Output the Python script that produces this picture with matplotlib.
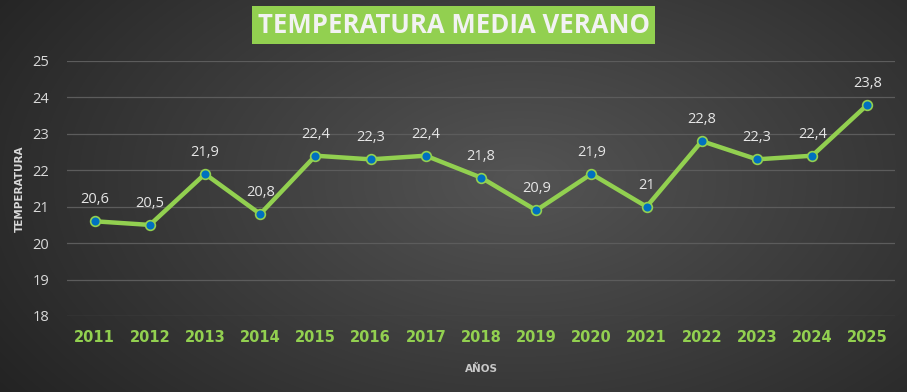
import numpy as np
import matplotlib
matplotlib.use("Agg")
import matplotlib.pyplot as plt

years = ["2011", "2012", "2013", "2014", "2015", "2016", "2017", "2018",
         "2019", "2020", "2021", "2022", "2023", "2024", "2025"]
temps = [20.6, 20.5, 21.9, 20.8, 22.4, 22.3, 22.4, 21.8,
         20.9, 21.9, 21.0, 22.8, 22.3, 22.4, 23.8]
labels = ["20,6", "20,5", "21,9", "20,8", "22,4", "22,3", "22,4", "21,8",
          "20,9", "21,9", "21", "22,8", "22,3", "22,4", "23,8"]

GREEN = "#92D050"
BLUE = "#0070C0"

fig = plt.figure(figsize=(9.07, 3.92), dpi=100)

# radial gradient background
bg = fig.add_axes([0, 0, 1, 1], zorder=-10)
yy, xx = np.mgrid[0:392, 0:907]
r = np.sqrt(((xx - 520) / 560.0) ** 2 + ((yy - 180) / 330.0) ** 2)
shade = np.clip(0.33 - 0.17 * r, 0.14, 0.33)
bg.imshow(np.dstack([shade] * 3), aspect="auto", extent=[0, 1, 0, 1])
bg.axis("off")

ax = fig.add_axes([0.0739, 0.1939, 0.9129, 0.6505])
ax.set_facecolor("none")
x = np.arange(len(years))
ax.plot(x, temps, color=GREEN, lw=3.2, marker="o", ms=7,
        markerfacecolor=BLUE, markeredgecolor=GREEN, markeredgewidth=1.2, zorder=3)
for xi, t, lab in zip(x, temps, labels):
    ax.annotate(lab, (xi, t), xytext=(0, 10), textcoords="offset points",
                ha="center", va="bottom", color="#e6e6e6", fontsize=10.5,
                family="Open Sans")

ax.set_xlim(-0.5, len(years) - 0.5)
ax.set_ylim(18, 25)
ax.set_yticks(range(18, 26))
ax.set_xticks(x)
ax.set_xticklabels(years, color=GREEN, fontsize=10.5, fontweight="bold", family="DejaVu Sans")
for lab in ax.get_yticklabels():
    lab.set_color("#d9d9d9")
    lab.set_fontsize(10.5)
    lab.set_family("Open Sans")
ax.tick_params(length=0, axis="y", pad=13)
ax.tick_params(length=0, axis="x", pad=10)
ax.grid(axis="y", color="#5c5c5c", lw=0.9)
for s in ax.spines.values():
    s.set_visible(False)

ax.set_xlabel("AÑOS", color="#c8c8c8", fontsize=7.5, fontweight="bold", labelpad=14)
ax.set_ylabel("TEMPERATURA", color="#d9d9d9", fontsize=7.5, fontweight="bold", labelpad=5)

fig.text(0.5, 0.936, "TEMPERATURA MEDIA VERANO", ha="center", va="center",
         color="#f2f2f2", fontsize=18.5, fontweight="bold", family="Open Sans",
         bbox=dict(boxstyle="square,pad=0.22", facecolor=GREEN, edgecolor="none"))

fig.savefig("out.png", dpi=100)
